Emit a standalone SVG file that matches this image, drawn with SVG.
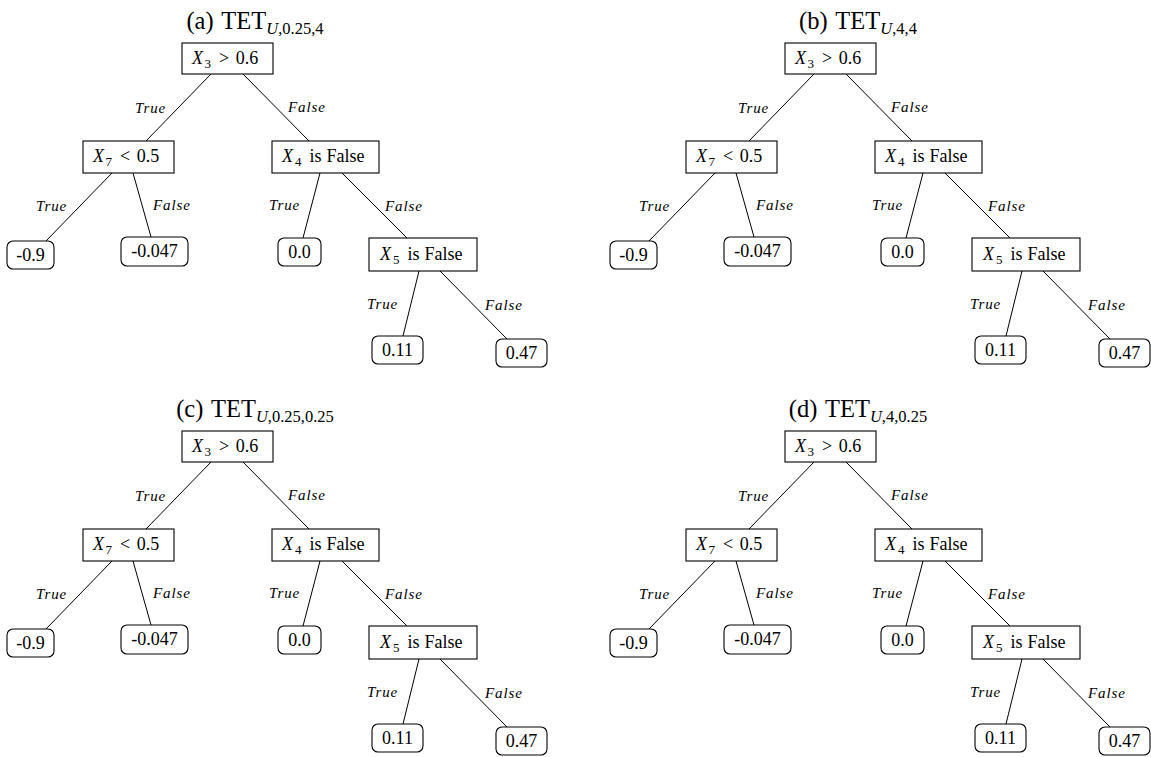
<svg xmlns="http://www.w3.org/2000/svg" width="1151" height="757" viewBox="0 0 1151 757">
  <style>
    text { font-family: "Liberation Serif", "Times New Roman", serif; fill: #000; }
    .title { font-size: 24.5px; }
    .tsub { font-size: 16.5px; }
    .t { font-size: 18px; }
    .sub { font-size: 13px; }
    .it { font-style: italic; }
    .lbl { font-size: 15px; font-style: italic; letter-spacing: 0.9px; }
    .box { fill: #fff; stroke: #000; stroke-width: 1.1; }
    .leaf { fill: #fff; stroke: #000; stroke-width: 1.1; }
    .connectors line { stroke: #000; stroke-width: 1; }
    .c { text-anchor: middle; }
  </style>
  <rect width="1151" height="757" fill="#fff"/>

  <!-- (a) -->
  <g id="panel-a">
    <text class="title c" x="255" y="29">(a) <tspan dx="2">TET</tspan><tspan class="tsub it" dy="5">U</tspan><tspan class="tsub">,0.25,4</tspan></text>
    <g id="a-connectors" class="connectors">
      <line x1="211" y1="74" x2="146" y2="141"/>
      <line x1="243" y1="74" x2="309" y2="141"/>
      <line x1="112" y1="173" x2="46" y2="241"/>
      <line x1="133" y1="173" x2="151" y2="237"/>
      <line x1="320" y1="173" x2="303" y2="238"/>
      <line x1="342" y1="173" x2="407" y2="238"/>
      <line x1="419" y1="271" x2="403" y2="336"/>
      <line x1="440" y1="271" x2="507" y2="339"/>
      <text class="lbl" x="135" y="113">True</text>
      <text class="lbl" x="288" y="112">False</text>
      <text class="lbl" x="36" y="211">True</text>
      <text class="lbl" x="153" y="210">False</text>
      <text class="lbl" x="269" y="210">True</text>
      <text class="lbl" x="385" y="211">False</text>
      <text class="lbl" x="367" y="309">True</text>
      <text class="lbl" x="485" y="310">False</text>
    </g>
    <g id="a-root"><rect class="box" x="182" y="43" width="91" height="31"/>
      <text class="t" x="192" y="64"><tspan class="it">X</tspan><tspan class="sub" dx="1.5" dy="4">3</tspan><tspan dx="8" dy="-4">&gt;</tspan><tspan dx="6.5">0.6</tspan></text></g>
    <g id="a-x7"><rect class="box" x="83" y="141" width="91" height="32"/>
      <text class="t" x="93" y="162"><tspan class="it">X</tspan><tspan class="sub" dx="1.5" dy="4">7</tspan><tspan dx="8" dy="-4">&lt;</tspan><tspan dx="6.5">0.5</tspan></text></g>
    <g id="a-x4"><rect class="box" x="272" y="141" width="107" height="32"/>
      <text class="t" x="282" y="162"><tspan class="it">X</tspan><tspan class="sub" dx="2" dy="4">4</tspan><tspan dx="8" dy="-4">is</tspan><tspan dx="5">False</tspan></text></g>
    <g id="a-x5"><rect class="box" x="369" y="238" width="108" height="33"/>
      <text class="t" x="380" y="260"><tspan class="it">X</tspan><tspan class="sub" dx="2" dy="4">5</tspan><tspan dx="8" dy="-4">is</tspan><tspan dx="5">False</tspan></text></g>
    <g id="a-leaf1"><rect class="leaf" x="7" y="241" width="47" height="28" rx="6"/><text class="t c" x="30.5" y="260.5">-0.9</text></g>
    <g id="a-leaf2"><rect class="leaf" x="121" y="237" width="67" height="29" rx="6"/><text class="t c" x="154.5" y="257">-0.047</text></g>
    <g id="a-leaf3"><rect class="leaf" x="278" y="238" width="43" height="28" rx="6"/><text class="t c" x="299.5" y="257.5">0.0</text></g>
    <g id="a-leaf4"><rect class="leaf" x="372" y="336" width="51" height="28" rx="6"/><text class="t c" x="397.5" y="355.5">0.11</text></g>
    <g id="a-leaf5"><rect class="leaf" x="496" y="339" width="51" height="28" rx="6"/><text class="t c" x="521.5" y="358.5">0.47</text></g>
  </g>

  <!-- (b) -->
  <g id="panel-b" transform="translate(603,0)">
    <text class="title c" x="255" y="29">(b) <tspan dx="2">TET</tspan><tspan class="tsub it" dy="5">U</tspan><tspan class="tsub">,4,4</tspan></text>
    <g id="b-connectors" class="connectors">
      <line x1="211" y1="74" x2="146" y2="141"/>
      <line x1="243" y1="74" x2="309" y2="141"/>
      <line x1="112" y1="173" x2="46" y2="241"/>
      <line x1="133" y1="173" x2="151" y2="237"/>
      <line x1="320" y1="173" x2="303" y2="238"/>
      <line x1="342" y1="173" x2="407" y2="238"/>
      <line x1="419" y1="271" x2="403" y2="336"/>
      <line x1="440" y1="271" x2="507" y2="339"/>
      <text class="lbl" x="135" y="113">True</text>
      <text class="lbl" x="288" y="112">False</text>
      <text class="lbl" x="36" y="211">True</text>
      <text class="lbl" x="153" y="210">False</text>
      <text class="lbl" x="269" y="210">True</text>
      <text class="lbl" x="385" y="211">False</text>
      <text class="lbl" x="367" y="309">True</text>
      <text class="lbl" x="485" y="310">False</text>
    </g>
    <g id="b-root"><rect class="box" x="182" y="43" width="91" height="31"/>
      <text class="t" x="192" y="64"><tspan class="it">X</tspan><tspan class="sub" dx="1.5" dy="4">3</tspan><tspan dx="8" dy="-4">&gt;</tspan><tspan dx="6.5">0.6</tspan></text></g>
    <g id="b-x7"><rect class="box" x="83" y="141" width="91" height="32"/>
      <text class="t" x="93" y="162"><tspan class="it">X</tspan><tspan class="sub" dx="1.5" dy="4">7</tspan><tspan dx="8" dy="-4">&lt;</tspan><tspan dx="6.5">0.5</tspan></text></g>
    <g id="b-x4"><rect class="box" x="272" y="141" width="107" height="32"/>
      <text class="t" x="282" y="162"><tspan class="it">X</tspan><tspan class="sub" dx="2" dy="4">4</tspan><tspan dx="8" dy="-4">is</tspan><tspan dx="5">False</tspan></text></g>
    <g id="b-x5"><rect class="box" x="369" y="238" width="108" height="33"/>
      <text class="t" x="380" y="260"><tspan class="it">X</tspan><tspan class="sub" dx="2" dy="4">5</tspan><tspan dx="8" dy="-4">is</tspan><tspan dx="5">False</tspan></text></g>
    <g id="b-leaf1"><rect class="leaf" x="7" y="241" width="47" height="28" rx="6"/><text class="t c" x="30.5" y="260.5">-0.9</text></g>
    <g id="b-leaf2"><rect class="leaf" x="121" y="237" width="67" height="29" rx="6"/><text class="t c" x="154.5" y="257">-0.047</text></g>
    <g id="b-leaf3"><rect class="leaf" x="278" y="238" width="43" height="28" rx="6"/><text class="t c" x="299.5" y="257.5">0.0</text></g>
    <g id="b-leaf4"><rect class="leaf" x="372" y="336" width="51" height="28" rx="6"/><text class="t c" x="397.5" y="355.5">0.11</text></g>
    <g id="b-leaf5"><rect class="leaf" x="496" y="339" width="51" height="28" rx="6"/><text class="t c" x="521.5" y="358.5">0.47</text></g>
  </g>

  <!-- (c) -->
  <g id="panel-c" transform="translate(0,388)">
    <text class="title c" x="255" y="29">(c) <tspan dx="2">TET</tspan><tspan class="tsub it" dy="5">U</tspan><tspan class="tsub">,0.25,0.25</tspan></text>
    <g id="c-connectors" class="connectors">
      <line x1="211" y1="74" x2="146" y2="141"/>
      <line x1="243" y1="74" x2="309" y2="141"/>
      <line x1="112" y1="173" x2="46" y2="241"/>
      <line x1="133" y1="173" x2="151" y2="237"/>
      <line x1="320" y1="173" x2="303" y2="238"/>
      <line x1="342" y1="173" x2="407" y2="238"/>
      <line x1="419" y1="271" x2="403" y2="336"/>
      <line x1="440" y1="271" x2="507" y2="339"/>
      <text class="lbl" x="135" y="113">True</text>
      <text class="lbl" x="288" y="112">False</text>
      <text class="lbl" x="36" y="211">True</text>
      <text class="lbl" x="153" y="210">False</text>
      <text class="lbl" x="269" y="210">True</text>
      <text class="lbl" x="385" y="211">False</text>
      <text class="lbl" x="367" y="309">True</text>
      <text class="lbl" x="485" y="310">False</text>
    </g>
    <g id="c-root"><rect class="box" x="182" y="43" width="91" height="31"/>
      <text class="t" x="192" y="64"><tspan class="it">X</tspan><tspan class="sub" dx="1.5" dy="4">3</tspan><tspan dx="8" dy="-4">&gt;</tspan><tspan dx="6.5">0.6</tspan></text></g>
    <g id="c-x7"><rect class="box" x="83" y="141" width="91" height="32"/>
      <text class="t" x="93" y="162"><tspan class="it">X</tspan><tspan class="sub" dx="1.5" dy="4">7</tspan><tspan dx="8" dy="-4">&lt;</tspan><tspan dx="6.5">0.5</tspan></text></g>
    <g id="c-x4"><rect class="box" x="272" y="141" width="107" height="32"/>
      <text class="t" x="282" y="162"><tspan class="it">X</tspan><tspan class="sub" dx="2" dy="4">4</tspan><tspan dx="8" dy="-4">is</tspan><tspan dx="5">False</tspan></text></g>
    <g id="c-x5"><rect class="box" x="369" y="238" width="108" height="33"/>
      <text class="t" x="380" y="260"><tspan class="it">X</tspan><tspan class="sub" dx="2" dy="4">5</tspan><tspan dx="8" dy="-4">is</tspan><tspan dx="5">False</tspan></text></g>
    <g id="c-leaf1"><rect class="leaf" x="7" y="241" width="47" height="28" rx="6"/><text class="t c" x="30.5" y="260.5">-0.9</text></g>
    <g id="c-leaf2"><rect class="leaf" x="121" y="237" width="67" height="29" rx="6"/><text class="t c" x="154.5" y="257">-0.047</text></g>
    <g id="c-leaf3"><rect class="leaf" x="278" y="238" width="43" height="28" rx="6"/><text class="t c" x="299.5" y="257.5">0.0</text></g>
    <g id="c-leaf4"><rect class="leaf" x="372" y="336" width="51" height="28" rx="6"/><text class="t c" x="397.5" y="355.5">0.11</text></g>
    <g id="c-leaf5"><rect class="leaf" x="496" y="339" width="51" height="28" rx="6"/><text class="t c" x="521.5" y="358.5">0.47</text></g>
  </g>

  <!-- (d) -->
  <g id="panel-d" transform="translate(603,388)">
    <text class="title c" x="255" y="29">(d) <tspan dx="2">TET</tspan><tspan class="tsub it" dy="5">U</tspan><tspan class="tsub">,4,0.25</tspan></text>
    <g id="d-connectors" class="connectors">
      <line x1="211" y1="74" x2="146" y2="141"/>
      <line x1="243" y1="74" x2="309" y2="141"/>
      <line x1="112" y1="173" x2="46" y2="241"/>
      <line x1="133" y1="173" x2="151" y2="237"/>
      <line x1="320" y1="173" x2="303" y2="238"/>
      <line x1="342" y1="173" x2="407" y2="238"/>
      <line x1="419" y1="271" x2="403" y2="336"/>
      <line x1="440" y1="271" x2="507" y2="339"/>
      <text class="lbl" x="135" y="113">True</text>
      <text class="lbl" x="288" y="112">False</text>
      <text class="lbl" x="36" y="211">True</text>
      <text class="lbl" x="153" y="210">False</text>
      <text class="lbl" x="269" y="210">True</text>
      <text class="lbl" x="385" y="211">False</text>
      <text class="lbl" x="367" y="309">True</text>
      <text class="lbl" x="485" y="310">False</text>
    </g>
    <g id="d-root"><rect class="box" x="182" y="43" width="91" height="31"/>
      <text class="t" x="192" y="64"><tspan class="it">X</tspan><tspan class="sub" dx="1.5" dy="4">3</tspan><tspan dx="8" dy="-4">&gt;</tspan><tspan dx="6.5">0.6</tspan></text></g>
    <g id="d-x7"><rect class="box" x="83" y="141" width="91" height="32"/>
      <text class="t" x="93" y="162"><tspan class="it">X</tspan><tspan class="sub" dx="1.5" dy="4">7</tspan><tspan dx="8" dy="-4">&lt;</tspan><tspan dx="6.5">0.5</tspan></text></g>
    <g id="d-x4"><rect class="box" x="272" y="141" width="107" height="32"/>
      <text class="t" x="282" y="162"><tspan class="it">X</tspan><tspan class="sub" dx="2" dy="4">4</tspan><tspan dx="8" dy="-4">is</tspan><tspan dx="5">False</tspan></text></g>
    <g id="d-x5"><rect class="box" x="369" y="238" width="108" height="33"/>
      <text class="t" x="380" y="260"><tspan class="it">X</tspan><tspan class="sub" dx="2" dy="4">5</tspan><tspan dx="8" dy="-4">is</tspan><tspan dx="5">False</tspan></text></g>
    <g id="d-leaf1"><rect class="leaf" x="7" y="241" width="47" height="28" rx="6"/><text class="t c" x="30.5" y="260.5">-0.9</text></g>
    <g id="d-leaf2"><rect class="leaf" x="121" y="237" width="67" height="29" rx="6"/><text class="t c" x="154.5" y="257">-0.047</text></g>
    <g id="d-leaf3"><rect class="leaf" x="278" y="238" width="43" height="28" rx="6"/><text class="t c" x="299.5" y="257.5">0.0</text></g>
    <g id="d-leaf4"><rect class="leaf" x="372" y="336" width="51" height="28" rx="6"/><text class="t c" x="397.5" y="355.5">0.11</text></g>
    <g id="d-leaf5"><rect class="leaf" x="496" y="339" width="51" height="28" rx="6"/><text class="t c" x="521.5" y="358.5">0.47</text></g>
  </g>
</svg>
